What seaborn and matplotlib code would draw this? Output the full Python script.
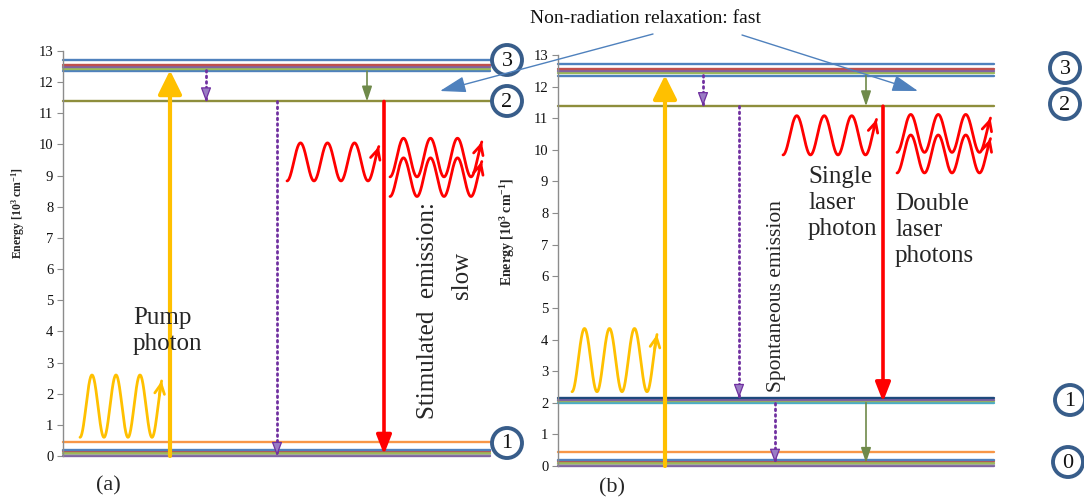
import numpy as np
import pandas as pd
import matplotlib
matplotlib.use("Agg")
import matplotlib.pyplot as plt
import seaborn as sns
from matplotlib.patches import Circle

# ---------------- data (energies in 10^3 cm^-1) ----------------
ENERGY_TICKS = list(range(0, 14))
UPPER_MANIFOLD = [12.35, 12.43, 12.50, 12.56, 12.70]          # level 3
UPPER_COLORS = ["#4F81BD", "#9BBB59", "#8064A2", "#C0504D", "#4F81BD"]
LASER_LEVEL = [11.38]                                         # level 2
LASER_COLORS = ["#8E8E3C"]
TERMINAL_MANIFOLD = [2.00, 2.05, 2.10, 2.15]                  # level 1 (panel b)
TERMINAL_COLORS = ["#4BACC6", "#9BBB59", "#8064A2", "#1F497D"]
GROUND_MANIFOLD = [0.00, 0.05, 0.10, 0.15, 0.20, 0.45]        # ground levels
GROUND_COLORS = ["#8064A2", "#A6A6A6", "#9BBB59", "#C0504D", "#4F81BD", "#F79646"]

# transitions (start energy, end energy)
A_PUMP = (0.00, 12.38)
A_RELAX = (12.38, 11.38)
A_SPONT = (11.38, 0.00)
A_NONRAD = (12.35, 11.38)
A_STIM = (11.38, 0.05)

B_PUMP = (0.00, 12.36)
B_RELAX = (12.36, 11.38)
B_SPONT = (11.38, 2.15)
B_SPONT_LOW = (2.00, 0.10)
B_NONRAD = (12.35, 11.38)
B_LASER = (11.38, 2.03)
B_NONRAD_LOW = (2.00, 0.10)

TITLE_TEXT = "Non-radiation relaxation: fast"
YLABEL = r"Energy [10$^{3}$ cm$^{-1}$]"

# ---------------- style ----------------
sns.set_theme(style="white")
plt.rcParams["font.family"] = ["Liberation Serif", "DejaVu Serif"]
plt.rcParams["mathtext.fontset"] = "custom"
plt.rcParams["mathtext.rm"] = "Liberation Serif:bold"
plt.rcParams["mathtext.it"] = "Liberation Serif:bold"
plt.rcParams["mathtext.bf"] = "Liberation Serif:bold"

W, H = 1084, 499
fig = plt.figure(figsize=(W / 100, H / 100), dpi=100)
fig.patch.set_facecolor("white")

YELLOW = "#FFC000"
RED = "#FF0000"
PURPLE = "#7030A0"
GREEN = "#6F8A4A"
BLUE = "#4F81BD"
RING = "#385D8A"


def make_axes(px_left, px_right, px_top, px_bottom):
    ax = fig.add_axes([px_left / W, 1 - px_bottom / H,
                       (px_right - px_left) / W, (px_bottom - px_top) / H])
    ax.set_xlim(px_left, px_right)
    ax.set_ylim(0, 13)
    ax.set_facecolor("none")
    for s in ["top", "right", "bottom"]:
        ax.spines[s].set_visible(False)
    ax.spines["left"].set_color("#8C8C8C")
    ax.spines["left"].set_linewidth(1.0)
    ax.set_xticks([])
    ax.set_yticks(ENERGY_TICKS)
    ax.set_yticklabels([str(t) for t in ENERGY_TICKS])
    ax.tick_params(axis="y", left=True, length=4, width=0.8, color="#8C8C8C",
                   labelsize=10.5, pad=3, labelcolor="#111111")
    ax.grid(False)
    return ax


def draw_levels(ax, levels, colors, x0, x1, lw=1.7):
    df = pd.DataFrame({
        "x": [x for _ in levels for x in (x0, x1)],
        "E": [e for e in levels for _ in (0, 1)],
        "lvl": [f"L{i}" for i, _ in enumerate(levels) for _ in (0, 1)],
    })
    sns.lineplot(data=df, x="x", y="E", hue="lvl", palette=colors,
                 legend=False, linewidth=lw, estimator=None, sort=False, ax=ax)


def arrow(ax, x, trans, color, lw, hl, hw, z=4):
    ax.annotate("", xy=(x, trans[1]), xytext=(x, trans[0]),
                arrowprops=dict(arrowstyle=f"-|>,head_length={hl},head_width={hw}",
                                color=color, lw=lw, shrinkA=0, shrinkB=0,
                                mutation_scale=10),
                annotation_clip=False, zorder=z)


def dotted_arrow(ax, x, trans, color=PURPLE):
    e0, e1 = trans
    ax.plot([x, x], [e0, e1], color=color, lw=2.0, ls=(0, (0.6, 1.4)),
            dash_capstyle="round", zorder=4, clip_on=False)
    ax.annotate("", xy=(x, e1), xytext=(x, e1 + (0.4 if e0 > e1 else -0.4)),
                arrowprops=dict(arrowstyle="-|>,head_length=0.85,head_width=0.32",
                                fc="#9A7CC4", ec=color, lw=0.9, shrinkA=0, shrinkB=0,
                                mutation_scale=10),
                annotation_clip=False, zorder=4)


def wave(ax, x0, period, center, amp, color, cycles=3.4):
    t = np.linspace(0, cycles, 400)
    x = x0 + t * period
    y = center - amp * np.cos(2 * np.pi * t)
    ax.plot(x, y, color=color, lw=2.0, solid_capstyle="round", zorder=4)
    ax.annotate("", xy=(x[-1], y[-1]), xytext=(x[-12], y[-12]),
                arrowprops=dict(arrowstyle="->,head_length=0.7,head_width=0.35",
                                color=color, lw=2.0, shrinkA=0, shrinkB=0,
                                mutation_scale=10), zorder=4)


# ---------------- panel (a) ----------------
axA = make_axes(63, 490, 51, 456)
draw_levels(axA, UPPER_MANIFOLD, UPPER_COLORS, 63, 490)
draw_levels(axA, LASER_LEVEL, LASER_COLORS, 63, 490)
draw_levels(axA, GROUND_MANIFOLD, GROUND_COLORS, 63, 490)
for ln in axA.lines:
    ln.set_clip_on(False)

arrow(axA, 170, A_PUMP, YELLOW, 3.0, 1.45, 0.72)
dotted_arrow(axA, 206, A_RELAX)
dotted_arrow(axA, 277, A_SPONT)
arrow(axA, 367, A_NONRAD, GREEN, 1.2, 0.9, 0.3)
arrow(axA, 384, A_STIM, RED, 2.6, 1.15, 0.45)

wave(axA, 80, 24, 1.6, 1.0, YELLOW)
wave(axA, 287, 27, 9.44, 0.61, RED)
wave(axA, 390, 27, 9.58, 0.62, RED)
wave(axA, 390, 27, 8.95, 0.62, RED)

axA.set_ylabel(YLABEL, fontsize=8.5, fontweight="bold")
axA.yaxis.set_label_coords(-0.085, 0.60)

# ---------------- panel (b) ----------------
axB = make_axes(558, 994, 55, 466)
draw_levels(axB, UPPER_MANIFOLD, UPPER_COLORS, 558, 994)
draw_levels(axB, LASER_LEVEL, LASER_COLORS, 558, 994)
draw_levels(axB, TERMINAL_MANIFOLD, TERMINAL_COLORS, 558, 994)
draw_levels(axB, GROUND_MANIFOLD, GROUND_COLORS, 558, 994)
for ln in axB.lines:
    ln.set_clip_on(False)

arrow(axB, 665, B_PUMP, YELLOW, 3.0, 1.45, 0.72)
dotted_arrow(axB, 703, B_RELAX)
dotted_arrow(axB, 739, B_SPONT)
dotted_arrow(axB, 775, B_SPONT_LOW)
arrow(axB, 866, B_NONRAD, GREEN, 1.2, 0.9, 0.3)
arrow(axB, 866, B_NONRAD_LOW, GREEN, 1.2, 0.9, 0.3)
arrow(axB, 883, B_LASER, RED, 2.6, 1.15, 0.45)

wave(axB, 572, 25, 3.35, 1.0, YELLOW)
wave(axB, 783, 27.5, 10.46, 0.62, RED)
wave(axB, 897, 27.5, 10.52, 0.6, RED)
wave(axB, 897, 27.5, 9.87, 0.6, RED)

axB.set_ylabel(YLABEL, fontsize=10, fontweight="bold")
axB.yaxis.set_label_coords(-0.094, 0.57)

# ---------------- overlay (pixel space) ----------------
ov = fig.add_axes([0, 0, 1, 1])
ov.set_xlim(0, W)
ov.set_ylim(H, 0)
ov.axis("off")

for (cx, cy, lab) in [(507, 60, "3"), (507, 101, "2"), (507, 443, "1"),
                      (1065, 68, "3"), (1065, 104, "2"), (1070, 400, "1"), (1068, 462, "0")]:
    ov.add_patch(Circle((cx, cy), 15, fc="white", ec=RING, lw=2.8, zorder=5, clip_on=False))
    ov.text(cx, cy + 1, lab, fontsize=16, ha="center", va="center", color="#111111", zorder=6)

ov.text(645, 18, TITLE_TEXT, fontsize=14, ha="center", va="center", color="#111111")
for (xs, ys, xe, ye) in [(653, 34, 440, 91), (742, 35, 918, 91)]:
    ov.annotate("", xy=(xe, ye), xytext=(xs, ys),
                arrowprops=dict(arrowstyle="-|>,head_length=1.6,head_width=0.5",
                                color=BLUE, lw=1.0, shrinkA=0, shrinkB=0, mutation_scale=10),
                zorder=7)

ov.text(133, 331, "Pump\nphoton", fontsize=18, ha="left", va="center", linespacing=1.25)
ov.text(428, 311, "Stimulated  emission:", fontsize=18, rotation=90, ha="center", va="center")
ov.text(462, 275, "slow", fontsize=18, rotation=90, ha="center", va="center")
ov.text(776, 296, "Spontaneous emission", fontsize=15.5, rotation=90, ha="center", va="center")
ov.text(808, 203, "Single\nlaser\nphoton", fontsize=18, ha="left", va="center", linespacing=1.25)
ov.text(895, 230, "Double\nlaser\nphotons", fontsize=18, ha="left", va="center", linespacing=1.25)
ov.text(108, 486, "(a)", fontsize=16, ha="center", va="center")
ov.text(612, 488, "(b)", fontsize=16, ha="center", va="center")

fig.savefig("out.png", dpi=100, facecolor="white")
